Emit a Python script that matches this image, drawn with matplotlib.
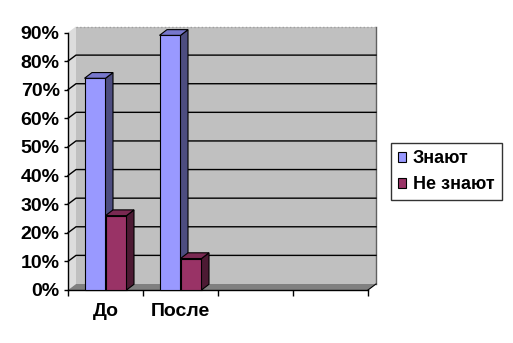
import matplotlib
matplotlib.use("Agg")
import matplotlib.pyplot as plt
from matplotlib.patches import Polygon, Patch

plt.rcParams["font.family"] = ["Liberation Sans", "DejaVu Sans"]
plt.rcParams["font.weight"] = "bold"

categories = ["До", "После", "", ""]
series_names = ["Знают", "Не знают"]
znayut = [74, 89]
ne_znayut = [26, 11]
y_ticks = [0, 10, 20, 30, 40, 50, 60, 70, 80, 90]

front_colors = ["#9999FF", "#993366"]
side_colors = ["#4D4D80", "#4C1A33"]
top_colors = ["#7777CC", "#7A2952"]

W, H = 513, 343
fig = plt.figure(figsize=(W / 100, H / 100), dpi=100)
fig.patch.set_facecolor("white")
ax = fig.add_axes([68 / W, (H - 290) / H, 300 / W, (290 - 32.5) / H])
ax.set_xlim(0, len(categories))
ax.set_ylim(0, 90)
ax.patch.set_visible(False)

# depth of the walls and bars in data units
dx, dy = 8 / 75, 6 / (257.5 / 90)
bdx, bdy = 0.1, 2.0
n = len(categories)

def poly(pts, fc, ec="none", lw=0.8, z=1):
    ax.add_patch(Polygon(pts, closed=True, facecolor=fc, edgecolor=ec,
                         linewidth=lw, clip_on=False, zorder=z))

# walls
poly([(dx, dy), (n + dx, dy), (n + dx, 90 + dy), (dx, 90 + dy)], "#C0C0C0", z=0)
poly([(0, 0), (dx, dy), (dx, 90 + dy), (0, 90)], "#DCDCDC", z=0)
poly([(0, 0), (n, 0), (n + dx, dy), (dx, dy)], "#808080", z=0)
ax.plot([n + dx, n + dx], [dy, 90 + dy], color="#606060", lw=1, clip_on=False, zorder=0.5)
ax.plot([dx, n + dx], [90 + dy, 90 + dy], color="#A0A0A0", lw=1, ls=":", clip_on=False, zorder=0.5)
ax.plot([n, n + dx], [0, dy], color="black", lw=0.8, clip_on=False, zorder=0.5)

for v in y_ticks[1:-1]:
    ax.plot([0, dx, n + dx], [v, v + dy, v + dy], color="black", lw=1,
            clip_on=False, zorder=0.5)

# bars
bw = 0.28
for i, vals in enumerate([znayut, ne_znayut]):
    for c, v in enumerate(vals):
        x0 = c + 0.22 + i * bw
        x1 = x0 + bw
        z = 2 + i
        poly([(x0, 0), (x1, 0), (x1, v), (x0, v)], front_colors[i], "black", z=z)
        poly([(x1, 0), (x1 + bdx, bdy), (x1 + bdx, v + bdy), (x1, v)],
             side_colors[i], "black", z=z)
        poly([(x0, v), (x1, v), (x1 + bdx, v + bdy), (x0 + bdx, v + bdy)],
             top_colors[i], "black", z=z)

for s in ["top", "right"]:
    ax.spines[s].set_visible(False)
for s in ["left", "bottom"]:
    ax.spines[s].set_linewidth(1)
    ax.spines[s].set_zorder(1)

ax.set_yticks(y_ticks)
ax.set_yticklabels([f"{v}%" for v in y_ticks], fontsize=14, fontweight="bold")
ax.tick_params(axis="y", length=3, width=1, pad=3)
ax.set_xticks(range(n + 1))
ax.set_xticklabels([])
ax.tick_params(axis="x", which="major", length=4, width=1)
ax.set_xticks([c + 0.5 for c in range(n)], minor=True)
ax.set_xticklabels(categories, minor=True, fontsize=14, fontweight="bold")
ax.tick_params(axis="x", which="minor", length=0, pad=9)

handles = [Patch(facecolor=front_colors[i], edgecolor="black", linewidth=0.8)
           for i in range(2)]
leg = fig.legend(handles, series_names, loc="upper left",
                 bbox_to_anchor=(391 / W, (H - 143) / H),
                 prop={"size": 13, "weight": "bold"}, frameon=True,
                 fancybox=False, handlelength=0.45, handleheight=0.45,
                 handletextpad=0.35, borderpad=0.4, labelspacing=0.5,
                 borderaxespad=0)
leg.get_frame().set_edgecolor("black")
leg.get_frame().set_linewidth(1)

fig.savefig("out.png", dpi=100)
